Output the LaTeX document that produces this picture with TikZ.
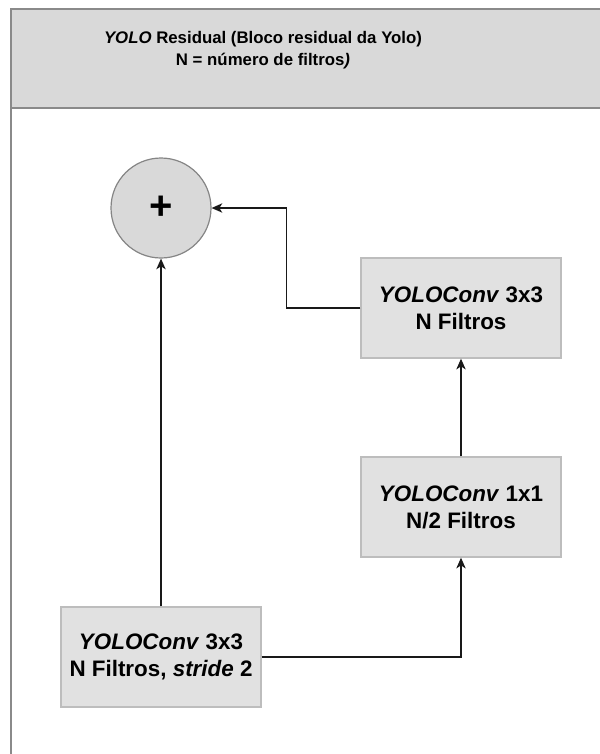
\documentclass[tikz,border=0pt]{standalone}
\usepackage{fontspec}
\setmainfont{Liberation Sans}
\usetikzlibrary{arrows.meta,positioning,calc}
\definecolor{hgray}{HTML}{D9D9D9}
\definecolor{hgrayd}{HTML}{8A8A8A}
\definecolor{bgray}{HTML}{E1E1E1}
\definecolor{bgrayd}{HTML}{BDBDBD}
\definecolor{cgray}{HTML}{D9D9D9}
\definecolor{cgrayd}{HTML}{858585}
\tikzset{
  % conv block: light gray fill, pale border
  blk/.style   = {rectangle, draw=bgrayd, fill=bgray, line width=1.05pt,
                  minimum width=150pt, minimum height=75pt, inner sep=0pt,
                  align=center, font=\fontsize{16.8}{20.2}\selectfont\bfseries},
  sumnode/.style = {circle, draw=cgrayd, fill=cgray, line width=0.9pt,
                  minimum size=75pt, inner sep=0pt,
                  font=\fontsize{30}{32}\selectfont\bfseries},
  frame/.style = {draw=hgrayd, line width=1.05pt},
  arr/.style   = {-{Stealth[length=8pt, width=7pt, inset=2.2pt]}, line width=1pt, black!90},
  ttl/.style   = {align=center, font=\fontsize{12.6}{17}\selectfont\bfseries},
}
\begin{document}
\begin{tikzpicture}[x=0.75pt,y=-0.75pt]
\clip (0,0) rectangle (600,754);
% container
\draw[frame, fill=white] (11,108) rectangle (640,790);
\draw[frame, fill=hgray] (11,9) rectangle (640,108);
\node[ttl] (title) at (263,50)
  {\textit{YOLO} Residual (Bloco residual da Yolo)\\N = número de filtros\textit{)}};
% blocks
\node[sumnode] (sum) at (161,208) {\raisebox{-0.1ex}{+}};
\node[blk] (convout) at (461,308) {\textit{YOLOConv} 3x3\\N Filtros};
\node[blk] (convmid) at (461,507) {\textit{YOLOConv} 1x1\\N/2 Filtros};
\node[blk] (convin) at (161,657) {\textit{YOLOConv} 3x3\\N Filtros, \textit{stride} 2};
% connectors
\draw[arr] (convin.north) -- (sum.south);
\draw[arr] (convin.east) -| (convmid.south);
\draw[arr] (convmid.north) -- (convout.south);
\draw[arr] (convout.west) -- ++(-74,0) |- (sum.east);
\end{tikzpicture}
\end{document}
